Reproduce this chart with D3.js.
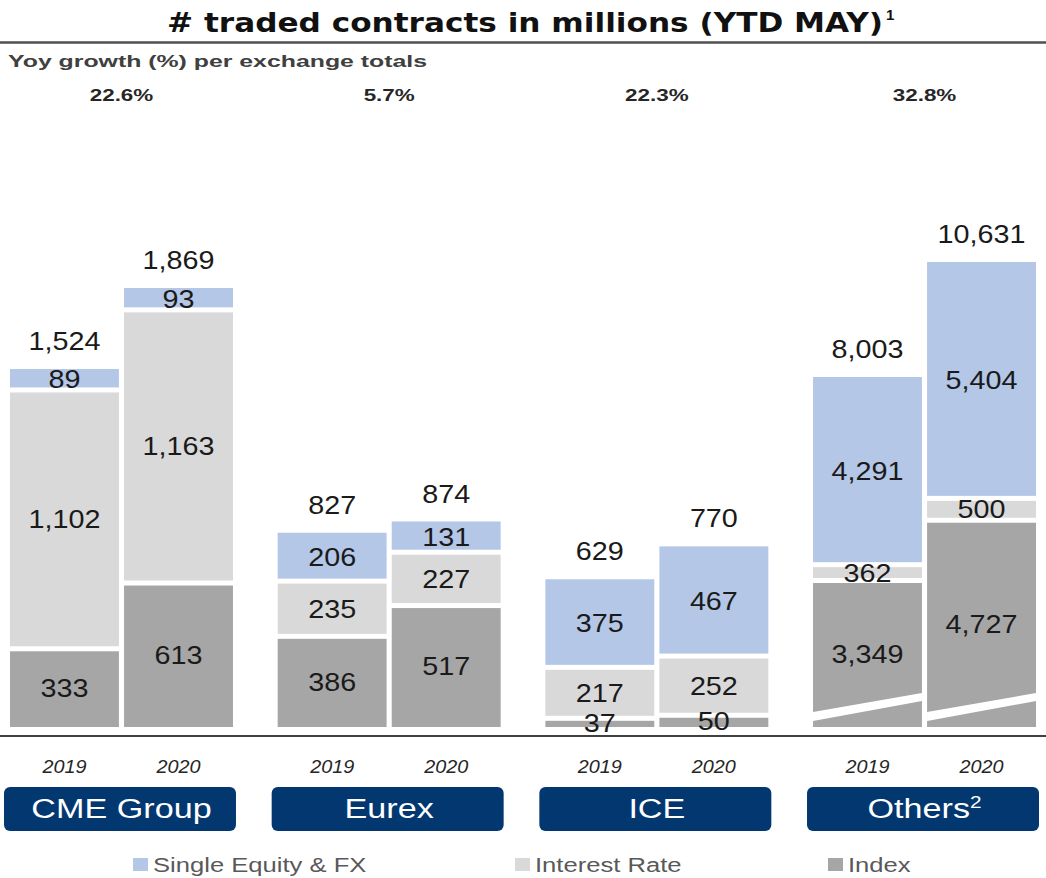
<!DOCTYPE html>
<html>
<head>
<meta charset="utf-8">
<script src="https://cdnjs.cloudflare.com/ajax/libs/d3/7.8.5/d3.min.js"></script>
<style>
  body { margin: 0; background: #fff; }
  text { font-family: "Liberation Sans", Arial, sans-serif; }
</style>
</head>
<body>
<div id="chart"></div>
<script>
// values in millions of contracts, YTD May
const exchanges = ["CME Group", "Eurex", "ICE", "Others"];
const years = ["2019", "2020"];
const index2019 = [333, 386, 37, 3349];
const index2020 = [613, 517, 50, 4727];
const rate2019 = [1102, 235, 217, 362];
const rate2020 = [1163, 227, 252, 500];
const equity2019 = [89, 206, 375, 4291];
const equity2020 = [93, 131, 467, 5404];
const totals2019 = [1524, 827, 629, 8003];
const totals2020 = [1869, 874, 770, 10631];
const growth = ["22.6%", "5.7%", "22.3%", "32.8%"];
const seriesNames = ["Single Equity & FX", "Interest Rate", "Index"];

const W = 1046, H = 878;
const base = 727;
const colors = { "Index": "#a6a6a6", "Interest Rate": "#d9d9d9", "Single Equity & FX": "#b4c7e7" };

const svg = d3.select("#chart").append("svg")
    .attr("width", W)
    .attr("height", H);

// build rows for stacking
const rows = [];
exchanges.forEach((ex, i) => {
    rows.push({ exchange: ex, year: "2019", "Index": index2019[i], "Interest Rate": rate2019[i], "Single Equity & FX": equity2019[i], total: totals2019[i] });
    rows.push({ exchange: ex, year: "2020", "Index": index2020[i], "Interest Rate": rate2020[i], "Single Equity & FX": equity2020[i], total: totals2020[i] });
});

const x0 = d3.scaleBand().domain(exchanges).range([10, 1036]).paddingInner(0.167);
const x1 = d3.scaleBand().domain(years).range([0, x0.bandwidth()]).paddingInner(0.045);

// the Others group sits on its own (broken) axis
const yMain = d3.scaleLinear().domain([0, 1869]).range([base, 288]);
const yOthers = d3.scaleLinear().domain([0, 10631]).range([base, 262]);
const yFor = ex => ex === "Others" ? yOthers : yMain;

const stack = d3.stack().keys(["Index", "Interest Rate", "Single Equity & FX"]);
const layers = stack(rows);

function label(sel, x, y, str, sx, anchor) {
    return sel.append("text")
        .attr("transform", `translate(${x},${y}) scale(${sx},1)`)
        .attr("text-anchor", anchor || "middle")
        .text(str);
}

// title
svg.append("text")
    .attr("x", 167).attr("y", 32)
    .attr("textLength", 716).attr("lengthAdjust", "spacingAndGlyphs")
    .style("font-family", "'DejaVu Sans', sans-serif")
    .style("font-weight", "bold").style("font-size", "26px")
    .attr("fill", "#111")
    .text("# traded contracts in millions (YTD MAY)");
svg.append("text")
    .attr("x", 886).attr("y", 20)
    .style("font-weight", "bold").style("font-size", "15px")
    .attr("fill", "#111")
    .text("1");
svg.append("line")
    .attr("x1", 0).attr("x2", W).attr("y1", 42.5).attr("y2", 42.5)
    .attr("stroke", "#505050").attr("stroke-width", 2.5);

svg.append("text")
    .attr("x", 8).attr("y", 67)
    .attr("textLength", 419).attr("lengthAdjust", "spacingAndGlyphs")
    .style("font-weight", "bold").style("font-size", "17px")
    .attr("fill", "#404040")
    .text("Yoy growth (%) per exchange totals");

exchanges.forEach((ex, i) => {
    label(svg, x0(ex) + x0.bandwidth() / 2, 101, growth[i], 1.4)
        .style("font-weight", "bold").style("font-size", "16px").attr("fill", "#262626");
});

// bars
const gap = 2.5;
const barG = svg.append("g");
layers.forEach((layer, li) => {
    layer.forEach(d => {
        const row = d.data;
        const y = yFor(row.exchange);
        const bx = x0(row.exchange) + x1(row.year);
        const yTop = y(d[1]) + (li === layers.length - 1 ? 0 : gap);
        const yBot = y(d[0]) - (li === 0 ? 0 : gap);
        barG.append("rect")
            .attr("x", bx)
            .attr("y", yTop)
            .attr("width", x1.bandwidth())
            .attr("height", Math.max(1.5, yBot - yTop))
            .attr("fill", colors[layer.key]);
    });
});

// axis break marks on the Others bars
years.forEach(yr => {
    const bx = x0("Others") + x1(yr), bw = x1.bandwidth();
    barG.append("polygon")
        .attr("points", [[bx, base - 15], [bx + bw, base - 34], [bx + bw, base - 26], [bx, base - 6]].join(" "))
        .attr("fill", "#fff");
});

// segment labels
const labG = svg.append("g").style("font-size", "25px").attr("fill", "#1a1a1a");
layers.forEach(layer => {
    layer.forEach(d => {
        const row = d.data;
        const y = yFor(row.exchange);
        const cx = x0(row.exchange) + x1(row.year) + x1.bandwidth() / 2;
        const cy = (y(d[0]) + y(d[1])) / 2;
        label(labG, cx, cy + 9, d3.format(",")(row[layer.key]), 1.15);
    });
});
// totals
rows.forEach(row => {
    const y = yFor(row.exchange);
    const cx = x0(row.exchange) + x1(row.year) + x1.bandwidth() / 2;
    label(labG, cx, y(row.total) - 19, d3.format(",")(row.total), 1.15);
});

// baseline
svg.append("line")
    .attr("x1", 0).attr("x2", W).attr("y1", 736).attr("y2", 736)
    .attr("stroke", "#404040").attr("stroke-width", 2);

// year labels
rows.forEach(row => {
    const cx = x0(row.exchange) + x1(row.year) + x1.bandwidth() / 2;
    label(svg, cx, 773, row.year, 1.1)
        .style("font-style", "italic").style("font-size", "18px").attr("fill", "#262626");
});

// exchange boxes
exchanges.forEach(ex => {
    const gx = x0(ex);
    svg.append("rect")
        .attr("x", gx - 6).attr("y", 787)
        .attr("width", x0.bandwidth() + 9).attr("height", 44)
        .attr("rx", 6)
        .attr("fill", "#023770");
    const t = label(svg, gx + x0.bandwidth() / 2, 818, ex, 1.22)
        .style("font-size", "28px").attr("fill", "#fff");
    if (ex === "Others") {
        t.append("tspan").attr("dy", -10).style("font-size", "17px").text("2");
    }
});

// legend
const legendX = [133, 515, 828];
seriesNames.forEach((name, i) => {
    svg.append("rect")
        .attr("x", legendX[i]).attr("y", 858)
        .attr("width", 15).attr("height", 13)
        .attr("fill", colors[name]);
    label(svg, legendX[i] + 20, 872, name, 1.28, "start")
        .style("font-size", "20px").attr("fill", "#595959");
});
</script>
</body>
</html>
